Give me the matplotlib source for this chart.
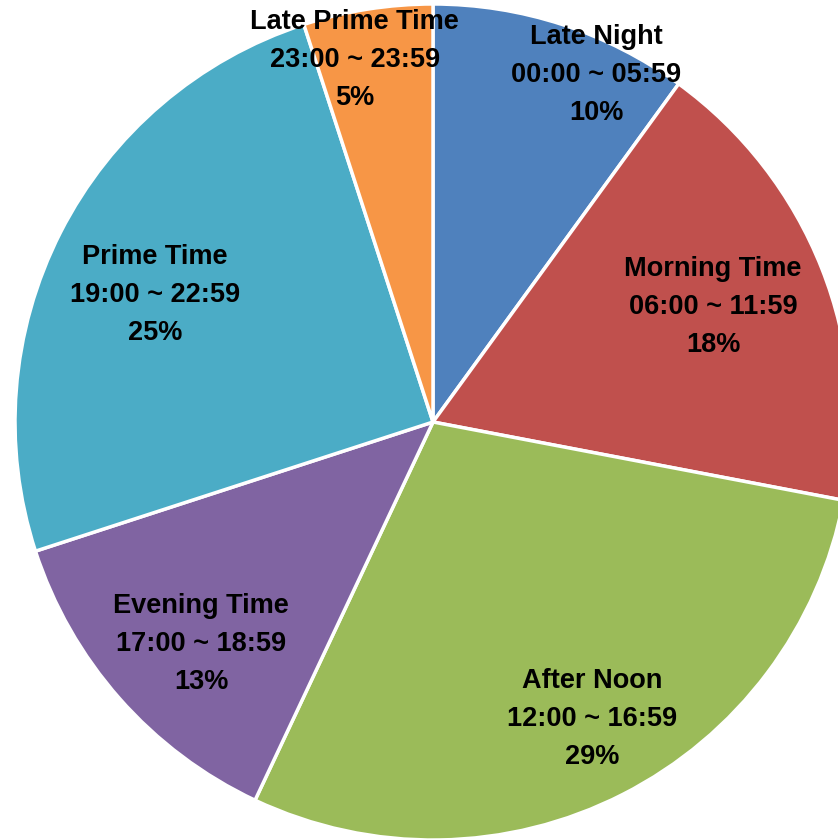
import matplotlib.pyplot as plt

names = ['Late Night', 'Morning Time', 'After Noon', 'Evening Time', 'Prime Time', 'Late Prime Time']
ranges = ['00:00 ~ 05:59', '06:00 ~ 11:59', '12:00 ~ 16:59', '17:00 ~ 18:59', '19:00 ~ 22:59', '23:00 ~ 23:59']
shares = [10, 18, 29, 13, 25, 5]

colors = ['#4F81BD', '#C0504D', '#9BBB59', '#8064A2', '#4BACC6', '#F79646']
# label centres as fractions of the radius (x right, y up)
label_pos = [(0.39, 0.83), (0.67, 0.275), (0.38, -0.71), (-0.555, -0.53), (-0.665, 0.305), (-0.187, 0.865)]

W, H = 838, 840
fig = plt.figure(figsize=(W / 100, H / 100), dpi=100)
ax = fig.add_axes([0, 0, 1, 1])

cx, cy, R = 433, H - 422, 418
ax.pie(shares, colors=colors, startangle=90, counterclock=False,
       center=(cx, cy), radius=R, frame=True,
       wedgeprops=dict(edgecolor='white', linewidth=2.5))
ax.set_xlim(0, W)
ax.set_ylim(0, H)
ax.set_aspect('equal')
ax.axis('off')

for n, r, s, (fx, fy) in zip(names, ranges, shares, label_pos):
    ax.text(cx + fx * R, cy + fy * R, f'{n}\n{r}\n{s}%', ha='center', va='center',
            fontsize=19.5, fontweight='bold', linespacing=1.6,
            family=['Liberation Sans', 'DejaVu Sans'], color='black')

fig.savefig('out.png', dpi=100)
